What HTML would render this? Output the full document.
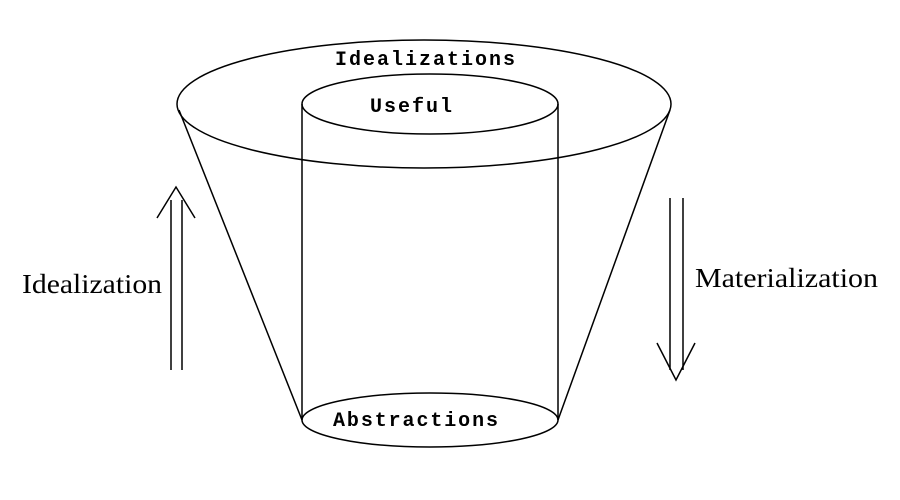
<!DOCTYPE html>
<html><head><meta charset="utf-8"><style>body{margin:0;background:#fff}svg{display:block}</style></head><body>
<svg width="900" height="500" viewBox="0 0 900 500" xmlns="http://www.w3.org/2000/svg">
<g fill="none" stroke="#000" stroke-width="1.5">
<ellipse cx="424" cy="104" rx="247" ry="64"/>
<ellipse cx="430" cy="104" rx="128" ry="30"/>
<ellipse cx="430" cy="420" rx="128" ry="27"/>
<line x1="302" y1="104" x2="302" y2="420"/>
<line x1="558" y1="104" x2="558" y2="420"/>
<line x1="179" y1="110" x2="302" y2="420"/>
<line x1="670" y1="110" x2="558" y2="420"/>
<line x1="171" y1="200" x2="171" y2="370"/>
<line x1="182" y1="200" x2="182" y2="370"/>
<polyline points="157,218 176,187 195,218"/>
<line x1="670" y1="198" x2="670" y2="370"/>
<line x1="683" y1="198" x2="683" y2="370"/>
<polyline points="657,343 676,380 695,343"/>
</g>
<g font-family="Liberation Mono, monospace" font-weight="bold" font-size="20">
<text x="335" y="65" textLength="180" lengthAdjust="spacing">Idealizations</text>
<text x="370" y="112" textLength="82" lengthAdjust="spacing">Useful</text>
<text x="333" y="426" textLength="165" lengthAdjust="spacing">Abstractions</text>
</g>
<g font-family="Liberation Serif, serif" font-size="27">
<text x="22" y="293" textLength="140" lengthAdjust="spacingAndGlyphs">Idealization</text>
<text x="695" y="287" textLength="183" lengthAdjust="spacingAndGlyphs">Materialization</text>
</g>
</svg>
</body></html>
